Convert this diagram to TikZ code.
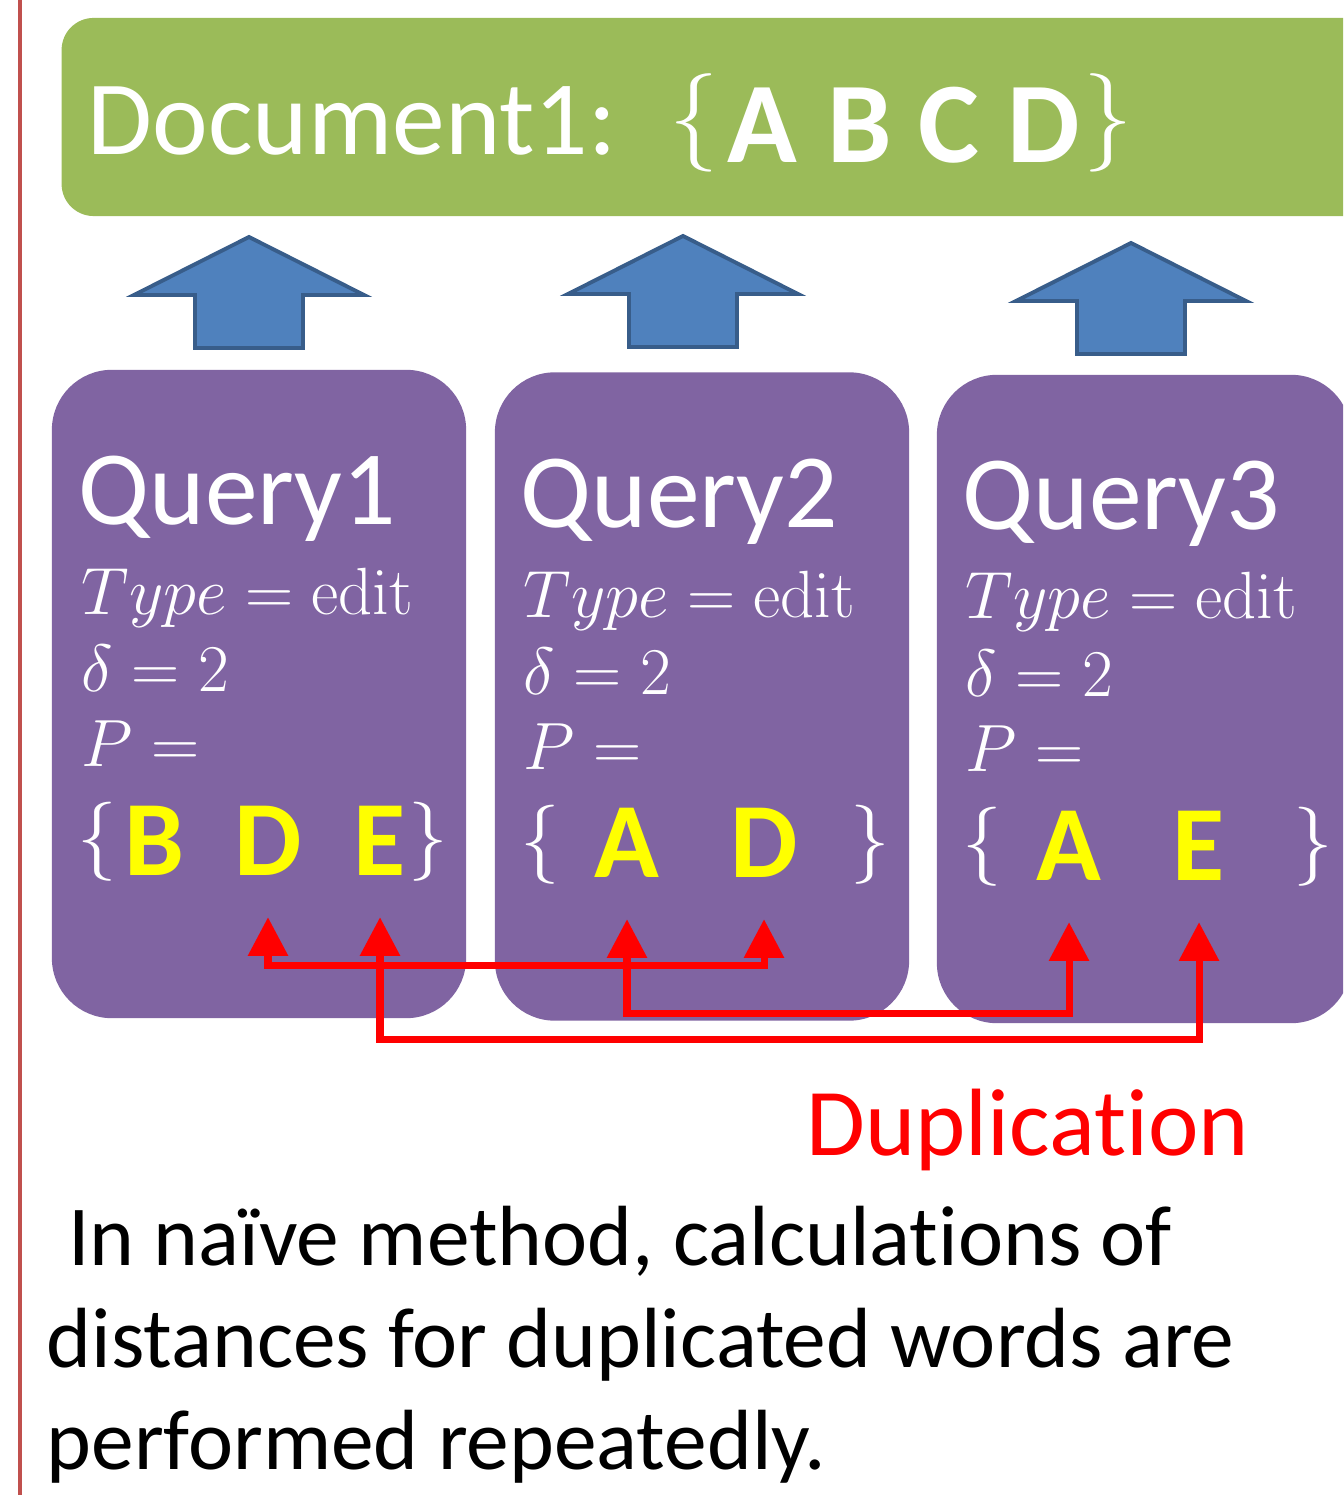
\documentclass[tikz,border=0pt]{standalone}
\usepackage{fix-cm}
\usepackage[no-math]{fontspec}
\setmainfont{Carlito}[Ligatures=NoCommon]
\usetikzlibrary{arrows.meta}
\definecolor{docgreen}{HTML}{9BBB59}
\definecolor{qpurple}{HTML}{8064A2}
\definecolor{arrowblue}{HTML}{4F81BD}
\definecolor{arrowedge}{HTML}{385D8A}
\definecolor{sidered}{HTML}{C0504D}
\definecolor{setyellow}{HTML}{FFFF00}
\tikzset{
  docbox/.style={fill=docgreen, rounded corners=0.32cm, minimum width=13.5cm, minimum height=1.98cm, inner sep=0pt},
  qbox/.style={fill=qpurple, rounded corners=0.6cm, minimum width=4.14cm, minimum height=6.48cm, inner sep=0pt},
  bigtext/.style={text=white, inner sep=0pt, anchor=base west, font=\fontsize{30}{34}\selectfont},
  mathline/.style={text=white, inner sep=0pt, anchor=base west, font=\fontsize{19}{22}\selectfont},
  brace/.style={text=white, inner sep=0pt, font=\fontsize{22.5}{26}\selectfont},
  word/.style={text=setyellow, inner sep=0pt, anchor=base, font=\fontsize{30.4}{34}\selectfont\bfseries},
  upblock/.style={fill=arrowblue, draw=arrowedge, line width=1.1pt},
  dup/.style={red, line width=2pt, {Triangle[width=11pt,length=11pt]}-{Triangle[width=11pt,length=11pt]}},
  remark/.style={inner sep=0pt, anchor=base west, font=\fontsize{24.3}{28}\selectfont}
}
\begin{document}
\begin{tikzpicture}[x=0.01cm, y=-0.01cm]
\useasboundingbox (0,0) rectangle (1343,1495);
\clip (0,0) rectangle (1343,1495);
\fill[white] (0,0) rectangle (1343,1495);
\draw[sidered, line width=1.2pt] (20,0) -- (20,1495);
% document
\node[docbox] (doc) at (737,117) {};
\node[bigtext] (doctitle) at (87,155) {Document1:};
\node[brace, font=\fontsize{28}{32}\selectfont] (docl) at (694,123) {$\{$};
\foreach \l/\x in {A/762, B/860, C/949, D/1044}
  \node[word, text=white, font=\fontsize{32.7}{36}\selectfont\bfseries] (doc\l) at (\x,163) {\l};
\node[brace, font=\fontsize{28}{32}\selectfont] (docr) at (1108,123) {$\}$};
% block arrows
\foreach \x/\y in {249/237, 683/236, 1131/243}
  \draw[upblock] (\x,\y) -- ++(115,58) -- ++(-61,0) -- ++(0,53) -- ++(-108,0) -- ++(0,-53) -- ++(-61,0) -- cycle;
% queries
\foreach \i/\x/\y in {1/259/694, 2/702/696.5, 3/1144/699}
  \node[qbox] (q\i) at (\x,\y) {};
\foreach \i/\lx/\dy in {1/83/0, 2/525/3, 3/967/5} {
  \node[bigtext] (qname\i) at (\lx-5,525+\dy) {Query\i};
  \node[mathline] (qtype\i) at (\lx-2,614+\dy) {$Type = \mathrm{edit}$};
  \node[mathline] (qdelta\i) at (\lx-2,691+\dy) {$\delta = 2$};
  \node[mathline] (qp\i) at (\lx-2,766+\dy) {$P =$};
}
\node[brace] (q1l) at (97,842) {$\{$};
\node[word] (q1B) at (154,875) {B};
\node[word] (q1D) at (268,875) {D};
\node[word] (q1E) at (380,875) {E};
\node[brace] (q1r) at (428,842) {$\}$};
\node[brace] (q2l) at (540,845) {$\{$};
\node[word] (q2A) at (627,877) {A};
\node[word] (q2D) at (764,877) {D};
\node[brace] (q2r) at (870,845) {$\}$};
\node[brace] (q3l) at (982,847) {$\{$};
\node[word] (q3A) at (1069,880) {A};
\node[word] (q3E) at (1199,880) {E};
\node[brace] (q3r) at (1313,847) {$\}$};
% duplicated words
\draw[dup] ([yshift=-12pt]q1D.base) -- ++(0,48) -| ([yshift=-12pt]q2D.base);
\draw[dup] ([yshift=-12pt]q2A.base) -- ++(0,94) -| ([yshift=-12pt]q3A.base);
\draw[dup] ([yshift=-12pt]q1E.base) -- ++(0,122) -| ([yshift=-12pt]q3E.base);
\node[remark, text=red, font=\fontsize{27.2}{30}\selectfont] (duplabel) at (806,1155) {Duplication};
% remark
\node[remark] (line1) at (48,1265) {\ In naïve method, calculations of};
\node[remark] (line2) at (46,1367) {distances for duplicated words are};
\node[remark] (line3) at (46,1469) {performed repeatedly.};
\end{tikzpicture}
\end{document}
